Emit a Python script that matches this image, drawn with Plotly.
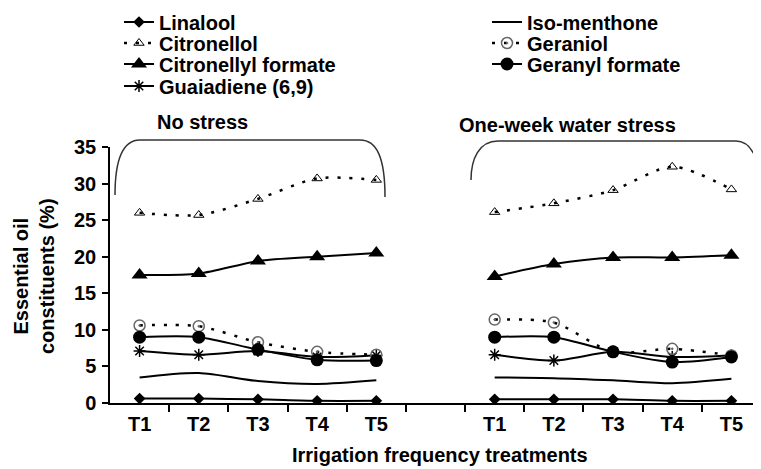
import plotly.graph_objects as go

categories = ["T1", "T2", "T3", "T4", "T5"]
groups = ["No stress", "One-week water stress"]

linalool_ns = [0.6, 0.6, 0.5, 0.3, 0.3]
linalool_ws = [0.5, 0.5, 0.5, 0.3, 0.3]
isomenthone_ns = [3.5, 4.1, 3.0, 2.6, 3.1]
isomenthone_ws = [3.5, 3.4, 3.1, 2.7, 3.3]
citronellol_ns = [26.0, 25.7, 27.9, 30.7, 30.5]
citronellol_ws = [26.1, 27.3, 29.1, 32.3, 29.2]
geraniol_ns = [10.6, 10.5, 8.3, 7.0, 6.6]
geraniol_ws = [11.4, 11.0, 7.0, 7.4, 6.5]
citronellyl_formate_ns = [17.5, 17.7, 19.4, 20.0, 20.5]
citronellyl_formate_ws = [17.3, 19.0, 19.9, 19.9, 20.2]
geranyl_formate_ns = [9.0, 9.0, 7.3, 5.9, 5.8]
geranyl_formate_ws = [9.0, 9.0, 7.0, 5.6, 6.3]
guaiadiene_ns = [7.1, 6.6, 7.1, 6.3, 6.5]
guaiadiene_ws = [6.6, 5.8, 7.0, 6.3, 6.5]

FONT = "Liberation Sans, Arial, sans-serif"

# category positions: group 1 at 0..4, empty slot at 5, group 2 at 6..10
n = len(categories)
x_pos = list(range(n)) + [n] + list(range(n + 1, 2 * n + 1))
tick_pos = list(range(n)) + list(range(n + 1, 2 * n + 1))
tick_text = categories + categories


def series(a, b):
    return a + [None] + b


specs = [
    ("Linalool", linalool_ns, linalool_ws, dict(symbol="diamond", size=9, color="black"), "solid", 2, "legend"),
    ("Citronellol", citronellol_ns, citronellol_ws,
     dict(symbol="triangle-up-open", size=9, color="black", line=dict(width=1)), "3px,9px", 2.5, "legend2"),
    ("Citronellyl formate", citronellyl_formate_ns, citronellyl_formate_ws,
     dict(symbol="triangle-up", size=14, color="black"), "solid", 2, "legend3"),
    ("Guaiadiene (6,9)", guaiadiene_ns, guaiadiene_ws,
     dict(symbol="asterisk-open", size=10, color="black", line=dict(width=1.5, color="black")), "solid", 2, "legend4"),
    ("Iso-menthone", isomenthone_ns, isomenthone_ws, None, "solid", 2, "legend5"),
    ("Geraniol", geraniol_ns, geraniol_ws,
     dict(symbol="circle-open-dot", size=11, color="#666666", line=dict(width=1.5)), "3px,9px", 2.5, "legend6"),
    ("Geranyl formate", geranyl_formate_ns, geranyl_formate_ws,
     dict(symbol="circle", size=13, color="black"), "solid", 2, "legend7"),
]

fig = go.Figure()
for name, ns, ws, marker, dash, width, leg in specs:
    kw = dict(
        x=x_pos, y=series(ns, ws), name=name, showlegend=True,
        line=dict(color="black", width=width, dash=dash, shape="spline", smoothing=0.8),
        legend=leg, connectgaps=False,
    )
    if marker is None:
        kw["mode"] = "lines"
    else:
        kw["mode"] = "lines+markers"
        kw["marker"] = marker
    fig.add_trace(go.Scatter(**kw))

# The page has an 8px body margin, so the figure is sized/placed to compensate.
OFF = 8
PAGE_W, PAGE_H = 761, 469
FW, FH = PAGE_W - OFF, PAGE_H - OFF
PLOT_L, PLOT_R, PLOT_T, PLOT_B = 110, 761, 147, 403   # page pixels of the plot area
L = PLOT_L - OFF
R_ = PAGE_W - PLOT_R
T = PLOT_T - OFF
B = PAGE_H - PLOT_B
W = PLOT_R - PLOT_L
H = PLOT_B - PLOT_T


def px(x):
    return (x - PLOT_L) / W


def py(y):
    return (PLOT_B - y) / H


def cx(x):
    return (x - OFF) / FW


def cy(y):
    return 1 - (y - OFF) / FH


legend_common = dict(bgcolor="rgba(0,0,0,0)", font=dict(family=FONT, size=20, color="black", weight=700),
                     xanchor="left", yanchor="middle", borderwidth=0,
                     xref="container", yref="container")
left_x = cx(119)
right_x = cx(487)
rows = [22, 43, 64, 86]
layout_legends = {
    "legend": dict(x=left_x, y=cy(rows[0]), **legend_common),
    "legend2": dict(x=left_x, y=cy(rows[1]), **legend_common),
    "legend3": dict(x=left_x, y=cy(rows[2]), **legend_common),
    "legend4": dict(x=left_x, y=cy(rows[3]), **legend_common),
    "legend5": dict(x=right_x, y=cy(rows[0]), **legend_common),
    "legend6": dict(x=right_x, y=cy(rows[1]), **legend_common),
    "legend7": dict(x=right_x, y=cy(rows[2]), **legend_common),
}


def bracket(x0, xt0, xt1, x1, y0, yt, y1):
    return (f"M {px(x0)},{py(y0)} C {px(x0)},{py(yt + 18)} {px(x0 + 8)},{py(yt)} {px(xt0)},{py(yt)} "
            f"L {px(xt1)},{py(yt)} C {px(x1 - 8)},{py(yt)} {px(x1)},{py(yt + 18)} {px(x1)},{py(y1)}")


shapes = [
    dict(type="path", xref="paper", yref="paper",
         path=bracket(115, 140, 360, 385, 195, 140, 197), line=dict(color="#333333", width=1.5)),
    dict(type="path", xref="paper", yref="paper",
         path=bracket(471, 498, 736, 759, 180, 141, 180), line=dict(color="#333333", width=1.5)),
]

ann_font = dict(family=FONT, size=20, color="black", weight=700)
annotations = [
    dict(text=groups[0], x=px(202), y=py(122), xref="paper", yref="paper",
         showarrow=False, font=ann_font, xanchor="center", yanchor="middle"),
    dict(text=groups[1], x=px(567), y=py(125), xref="paper", yref="paper",
         showarrow=False, font=ann_font, xanchor="center", yanchor="middle"),
    dict(text="Essential oil<br>constituents (%)", x=px(34), y=py(276), xref="paper", yref="paper",
         showarrow=False, font=ann_font, textangle=-90, xanchor="center", yanchor="middle"),
    dict(text="Irrigation frequency treatments", x=px(440), y=py(455), xref="paper", yref="paper",
         showarrow=False, font=ann_font, xanchor="center", yanchor="middle"),
]

fig.update_layout(
    width=FW, height=FH,
    margin=dict(l=L, r=R_, t=T, b=B, autoexpand=False),
    paper_bgcolor="white", plot_bgcolor="white",
    font=dict(family=FONT, size=20, color="black", weight=700),
    showlegend=True,
    shapes=shapes, annotations=annotations,
    **layout_legends,
)

fig.update_xaxes(
    range=[-0.5, 2 * n + 0.5], tickmode="array", tickvals=tick_pos, ticktext=tick_text,
    ticks="", showline=True, linecolor="black", linewidth=1.5, showgrid=False, zeroline=False,
    ticklabelstandoff=2,
    tickfont=dict(family=FONT, size=20, color="black", weight=700),
    minor=dict(tickmode="array", tickvals=[i + 0.5 for i in range(2 * n + 1)],
               ticks="outside", ticklen=7, tickwidth=1.5, tickcolor="black", showgrid=False),
)
fig.update_yaxes(
    range=[0, 35], tickmode="linear", tick0=0, dtick=5,
    ticks="outside", ticklen=6, tickwidth=1.5, tickcolor="black",
    showline=True, linecolor="black", linewidth=1.5, showgrid=False, zeroline=False,
    ticklabelstandoff=2,
    tickfont=dict(family=FONT, size=20, color="black", weight=700),
)

fig.write_html("out.html")
